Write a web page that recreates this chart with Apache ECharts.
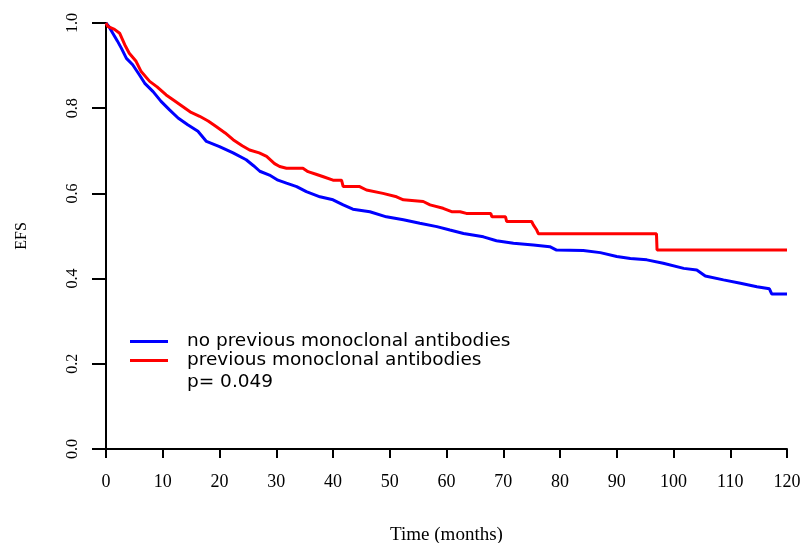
<!DOCTYPE html>
<html>
<head>
<meta charset="utf-8">
<script src="https://cdn.jsdelivr.net/npm/echarts@6/dist/echarts.min.js"></script>
<style>
html,body{margin:0;padding:0;background:#fff;}
#chart{width:804px;height:543px;}
</style>
</head>
<body>
<div id="chart"></div>
<script>
// Series names
var seriesNames = ['no previous monoclonal antibodies', 'previous monoclonal antibodies'];
var pValueText = 'p= 0.049';

// X ticks (months) and Y ticks (EFS)
var xTicks = [0,10,20,30,40,50,60,70,80,90,100,110,120];
var yTicks = [0.0,0.2,0.4,0.6,0.8,1.0];

// Blue: no previous monoclonal antibodies (curve points: time, EFS)
var blueTimes = [0,0.5,1.2,2.0,2.7,3.6,4.7,5.9,6.8,8.3,9.7,11.2,12.7,14.4,16.2,17.7,20.0,22.4,24.7,26.0,27.1,28.8,30.3,31.8,33.6,35.3,37.7,40.0,41.8,43.5,46.5,49.4,52.4,55.3,58.3,60.6,63.0,66.5,68.8,71.8,75.3,78.2,79.4,84.1,87.1,90.0,92.4,95.3,98.2,101.8,104.1,105.6,108.8,111.8,114.7,116.9,117.3,120];
var blueEFS   = [1.0,0.992,0.976,0.958,0.941,0.917,0.902,0.878,0.859,0.839,0.816,0.796,0.777,0.761,0.746,0.722,0.710,0.695,0.679,0.665,0.652,0.643,0.631,0.624,0.616,0.604,0.592,0.585,0.573,0.563,0.557,0.545,0.538,0.530,0.522,0.514,0.506,0.498,0.489,0.483,0.479,0.475,0.467,0.466,0.461,0.452,0.447,0.444,0.436,0.424,0.420,0.406,0.397,0.389,0.381,0.376,0.364,0.364];

// Red: previous monoclonal antibodies
var redTimes = [0,0.3,1.5,2.4,3.3,4.1,5.3,6.2,7.7,9.0,10.6,12.0,13.5,15.0,16.5,18.0,19.4,21.0,22.4,24.0,25.3,27.0,28.3,29.7,30.6,31.8,34.7,35.6,37.0,38.3,40.0,41.5,41.8,44.7,45.9,48.8,51.2,52.4,55.9,57.1,59.4,60.9,62.4,63.5,67.8,68.0,70.4,70.6,75.0,75.3,75.9,76.2,97.0,97.1,120];
var redEFS   = [1.0,0.992,0.985,0.976,0.949,0.929,0.910,0.886,0.863,0.850,0.831,0.818,0.804,0.790,0.781,0.770,0.757,0.742,0.726,0.712,0.702,0.695,0.687,0.670,0.663,0.659,0.659,0.651,0.645,0.639,0.631,0.631,0.616,0.616,0.608,0.600,0.592,0.585,0.581,0.573,0.565,0.557,0.557,0.553,0.553,0.545,0.545,0.534,0.534,0.526,0.514,0.505,0.505,0.467,0.467];

function pairs(ts, vs){ return ts.map(function(t,i){ return [t, vs[i]]; }); }

var chart = echarts.init(document.getElementById('chart'), null, {renderer:'canvas'});
var serif = '"Liberation Serif", "Times New Roman", serif';
var sans = '"DejaVu Sans", sans-serif';

chart.setOption({
  animation: false,
  backgroundColor: '#ffffff',
  grid: {left: 106, right: 17, top: 23, bottom: 94, containLabel: false, outerBoundsMode: 'none'},
  xAxis: {
    type: 'value', min: xTicks[0], max: xTicks[xTicks.length-1], interval: 10,
    name: 'Time (months)', nameLocation: 'middle', nameGap: 77,
    nameTextStyle: {fontFamily: serif, fontSize: 19, color: '#000'},
    axisLine: {show: true, onZero: false, lineStyle: {color: '#000', width: 2}},
    axisTick: {show: true, inside: false, length: 9, lineStyle: {color: '#000', width: 2}},
    axisLabel: {show: true, margin: 24, fontFamily: serif, fontSize: 18, color: '#000'},
    splitLine: {show: false}
  },
  yAxis: {
    type: 'value', min: yTicks[0], max: yTicks[yTicks.length-1], interval: 0.2,
    name: 'EFS', nameLocation: 'middle', nameRotate: 90, nameGap: 76,
    nameTextStyle: {fontFamily: serif, fontSize: 16, color: '#000'},
    axisLine: {show: true, lineStyle: {color: '#000', width: 2}},
    axisTick: {show: true, inside: false, length: 14, lineStyle: {color: '#000', width: 2}},
    axisLabel: {show: true, rotate: 90, margin: 25, fontFamily: serif, fontSize: 16, color: '#000',
      formatter: function(v){ return v.toFixed(1); }},
    splitLine: {show: false}
  },
  legend: {
    show: true, orient: 'vertical', left: 130, top: 332, padding: 0,
    itemWidth: 38, itemHeight: 3, itemGap: 0, icon: 'rect',
    data: seriesNames,
    textStyle: {fontFamily: sans, fontSize: 18.5, color: '#000', lineHeight: 19, padding: [0,0,0,14]},
    selectedMode: false
  },
  graphic: [{
    type: 'text', left: 187, top: 373,
    style: {text: pValueText, font: '18.5px "DejaVu Sans", sans-serif', fill: '#000'}
  }],
  series: [
    {name: seriesNames[0], type: 'line', showSymbol: false, symbol: 'none',
     data: pairs(blueTimes, blueEFS), lineStyle: {color: '#0000ff', width: 3}, itemStyle: {color: '#0000ff'}, z: 2},
    {name: seriesNames[1], type: 'line', showSymbol: false, symbol: 'none',
     data: pairs(redTimes, redEFS), lineStyle: {color: '#ff0000', width: 3}, itemStyle: {color: '#ff0000'}, z: 3}
  ]
});
</script>
</body>
</html>
